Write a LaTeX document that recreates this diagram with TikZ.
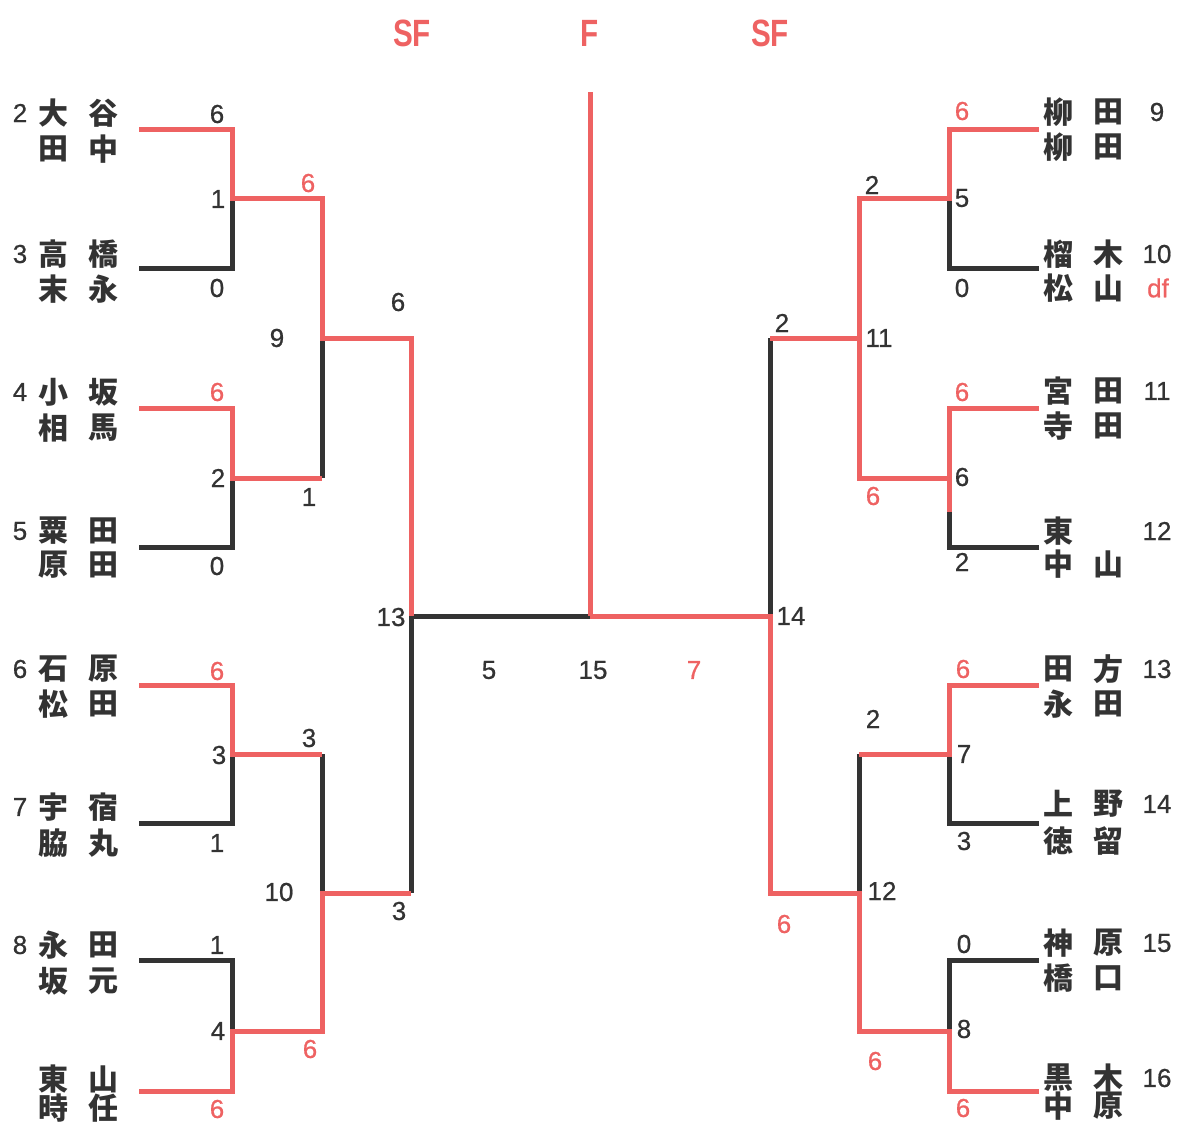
\documentclass[tikz,border=0pt]{standalone}
\usepackage{fontspec}
\setmainfont{Liberation Sans}
\newfontfamily\jpfont{Noto Sans CJK JP}
\newfontfamily\numfont{Liberation Sans}[FakeBold=0.7]
\newfontfamily\titlefont{Liberation Sans}[FakeStretch=0.78]
\usepackage{xcolor}
\usepackage{tikz}
\definecolor{winred}{RGB}{238,98,98}
\definecolor{losegray}{RGB}{51,51,51}

\begin{document}
\begin{tikzpicture}[x=1pt, y=-1pt,
    win/.style={draw=winred, line width=5pt},
    lose/.style={draw=losegray, line width=5pt},
    score/.style={inner sep=0pt, text=losegray, font=\numfont\fontsize{26}{26}\selectfont},
    wscore/.style={score, text=winred},
    player/.style={inner sep=0pt, text=losegray, font=\jpfont\bfseries\fontsize{30}{30}\selectfont},
    roundlabel/.style={inner sep=0pt, text=winred, font=\titlefont\bfseries\fontsize{38}{38}\selectfont}]
            \useasboundingbox (0,0) rectangle (1184,1128);

            % Round titles
            \node[roundlabel] (title-SF1) at (412,33) {SF};
            \node[roundlabel] (title-F) at (590,33) {F};
            \node[roundlabel] (title-SF2) at (770,33) {SF};

            % Team lines (left and right)
            \foreach \n/\y in {1/129,2/268,3/408,4/547,5/685,6/823,7/960,8/1091}
            {
                \coordinate (L\n) at (139,\y);
                \coordinate (LC\n) at (232,\y);
                \coordinate (R\n) at (1039,\y);
                \coordinate (RC\n) at (949,\y);
            }

            % First round junctions
            \foreach \n/\y in {1/198,2/478,3/754,4/1031}
            {
                \coordinate (LM\n) at (232,\y);
                \coordinate (LN\n) at (322,\y);
                \coordinate (RM\n) at (949,\y);
                \coordinate (RN\n) at (859,\y);
            }

            % Second round junctions
            \foreach \n/\y in {1/338,2/893}
            {
                \coordinate (LS\n) at (322,\y);
                \coordinate (LT\n) at (411,\y);
                \coordinate (RS\n) at (859,\y);
                \coordinate (RT\n) at (770,\y);
            }

            % Final
            \coordinate (LF) at (411,616);
            \coordinate (RF) at (770,616);
            \coordinate (FC) at (590,616);
            \coordinate (FT) at (590,92);
            \coordinate (RX) at (949,512);

            % Lost matches
            \foreach \n/\m in {2/1,4/2,6/3,7/4}
            {
                \draw[lose] (L\n) -- (LC\n) -- (LM\m);
            }
            \foreach \n/\m in {2/1,6/3,7/4}
            {
                \draw[lose] (R\n) -- (RC\n) -- (RM\m);
            }
            \draw[lose] (R4) -- (RC4) -- (RX);
            \draw[lose] (LN2) -- (LS1);
            \draw[lose] (LN3) -- (LS2);
            \draw[lose] (LT2) -- (LF) -- (FC);
            \draw[lose] (RN3) -- (RS2);
            \draw[lose] (RT1) -- (RF);

            % Won matches
            \draw[win] (L1) -- (LC1) -- (LM1) -- (LN1) -- (LS1) -- (LT1) -- (LF);
            \draw[win] (L3) -- (LC3) -- (LM2) -- (LN2);
            \draw[win] (L5) -- (LC5) -- (LM3) -- (LN3);
            \draw[win] (L8) -- (LC8) -- (LM4) -- (LN4) -- (LS2) -- (LT2);
            \draw[win] (R1) -- (RC1) -- (RM1) -- (RN1) -- (RS1) -- (RT1);
            \draw[win] (R3) -- (RC3) -- (RX);
            \draw[win] (RM2) -- (RN2) -- (RS1);
            \draw[win] (R5) -- (RC5) -- (RM3) -- (RN3);
            \draw[win] (R8) -- (RC8) -- (RM4) -- (RN4) -- (RS2) -- (RT2) -- (RF) -- (FC);
            \draw[win] (FT) -- (FC);

            % Left players
            \foreach \n/\s/\a/\b/\c/\d/\u/\v in {1/2/大/谷/田/中/113/149, 2/3/高/橋/末/永/254/289,
                3/4/小/坂/相/馬/392/428, 4/5/粟/田/原/田/531/565, 5/6/石/原/松/田/669/704,
                6/7/宇/宿/脇/丸/807/843, 7/8/永/田/坂/元/945/981, 8//東/山/時/任/1079/1108}
            {
                \node[score] (seedL-\n) at (20,\u) {\s};
                \node[player] (nameL-\n-a) at (53,\u) {\a};
                \node[player] (nameL-\n-b) at (103,\u) {\b};
                \node[player] (nameL-\n-c) at (53,\v) {\c};
                \node[player] (nameL-\n-d) at (103,\v) {\d};
            }

            % Right players
            \foreach \n/\s/\a/\b/\c/\d/\u/\v in {1/9/柳/田/柳/田/112/147, 2/10/榴/木/松/山/254/288,
                3/11/宮/田/寺/田/391/426, 4/12/東//中/山/531/564, 5/13/田/方/永/田/669/704,
                6/14/上/野/徳/留/804/841, 7/15/神/原/橋/口/943/978, 8/16/黒/木/中/原/1078/1106}
            {
                \node[player] (nameR-\n-a) at (1058,\u) {\a};
                \node[player] (nameR-\n-b) at (1108,\u) {\b};
                \node[player] (nameR-\n-c) at (1058,\v) {\c};
                \node[player] (nameR-\n-d) at (1108,\v) {\d};
                \node[score] (seedR-\n) at (1157,\u) {\s};
            }
            \node[wscore] (default) at (1158,288) {df};

            % Scores
            \foreach \i/\x/\y/\t in {1/217/114/6, 2/218/199/1, 3/217/288/0, 4/277/338/9, 5/398/302/6,
                6/218/478/2, 7/309/497/1, 8/217/566/0, 9/391/617/13, 10/219/755/3, 11/309/738/3,
                12/217/843/1, 13/279/892/10, 14/399/911/3, 15/217/945/1, 16/218/1031/4,
                17/489/670/5, 18/593/670/15, 19/962/198/5, 20/962/288/0, 21/872/185/2,
                22/782/323/2, 23/879/338/11, 24/962/477/6, 25/962/562/2, 26/791/616/14,
                27/873/719/2, 28/964/754/7, 29/964/841/3, 30/882/891/12, 31/964/944/0, 32/964/1029/8}
            {
                \node[score] (score-\i) at (\x,\y) {\t};
            }
            \foreach \i/\x/\y/\t in {1/308/183/6, 2/217/392/6, 3/217/671/6, 4/310/1049/6, 5/217/1109/6,
                6/694/670/7, 7/962/111/6, 8/962/392/6, 9/873/496/6, 10/963/669/6, 11/784/924/6,
                12/875/1061/6, 13/963/1108/6}
            {
                \node[wscore] (wscore-\i) at (\x,\y) {\t};
            }

        \end{tikzpicture}
\end{document}
